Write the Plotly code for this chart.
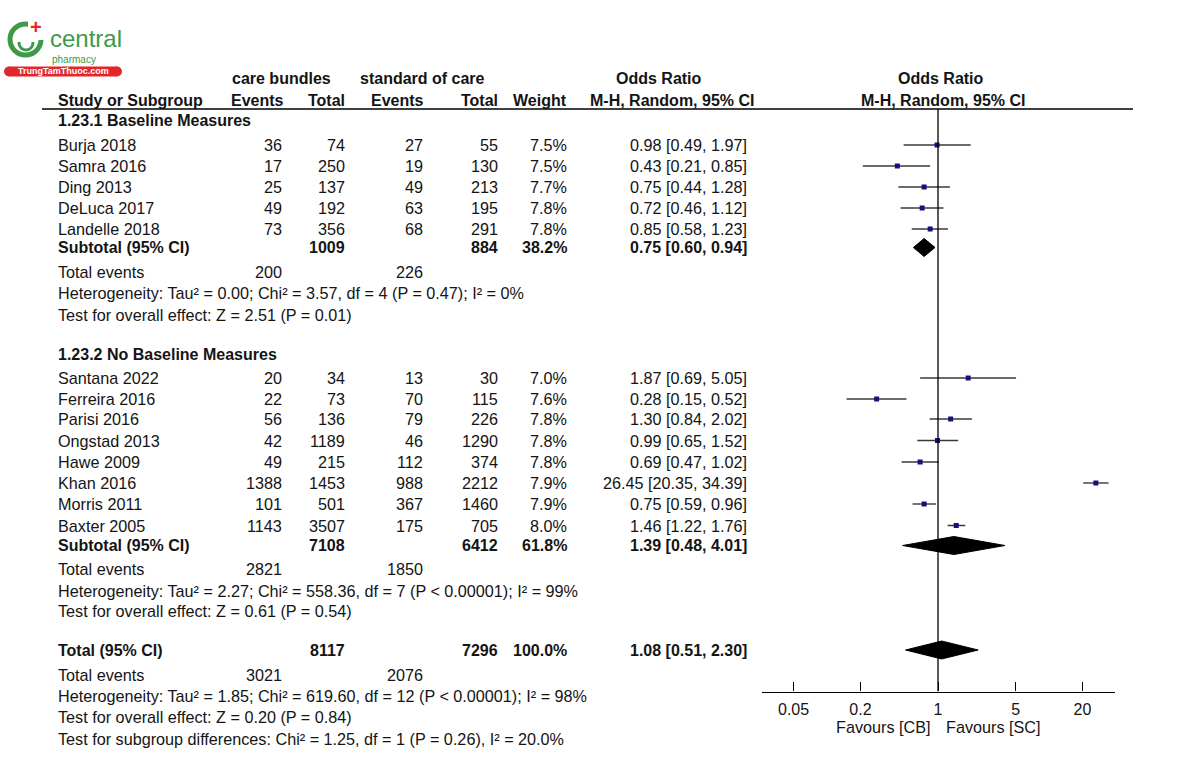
import math
import plotly.graph_objects as go

# ---------------- data ----------------
g1_studies = ["Burja 2018", "Samra 2016", "Ding 2013", "DeLuca 2017", "Landelle 2018"]
g1_cb_events = [36, 17, 25, 49, 73]
g1_cb_total = [74, 250, 137, 192, 356]
g1_sc_events = [27, 19, 49, 63, 68]
g1_sc_total = [55, 130, 213, 195, 291]
g1_weight = [7.5, 7.5, 7.7, 7.8, 7.8]
g1_or = [0.98, 0.43, 0.75, 0.72, 0.85]
g1_lo = [0.49, 0.21, 0.44, 0.46, 0.58]
g1_hi = [1.97, 0.85, 1.28, 1.12, 1.23]

g2_studies = ["Santana 2022", "Ferreira 2016", "Parisi 2016", "Ongstad 2013",
              "Hawe 2009", "Khan 2016", "Morris 2011", "Baxter 2005"]
g2_cb_events = [20, 22, 56, 42, 49, 1388, 101, 1143]
g2_cb_total = [34, 73, 136, 1189, 215, 1453, 501, 3507]
g2_sc_events = [13, 70, 79, 46, 112, 988, 367, 175]
g2_sc_total = [30, 115, 226, 1290, 374, 2212, 1460, 705]
g2_weight = [7.0, 7.6, 7.8, 7.8, 7.8, 7.9, 7.9, 8.0]
g2_or = [1.87, 0.28, 1.30, 0.99, 0.69, 26.45, 0.75, 1.46]
g2_lo = [0.69, 0.15, 0.84, 0.65, 0.47, 20.35, 0.59, 1.22]
g2_hi = [5.05, 0.52, 2.02, 1.52, 1.02, 34.39, 0.96, 1.76]

pooled_labels = ["Subtotal (95% CI)", "Subtotal (95% CI)", "Total (95% CI)"]
pooled_cb_total = [1009, 7108, 8117]
pooled_sc_total = [884, 6412, 7296]
pooled_weight = [38.2, 61.8, 100.0]
pooled_or = [0.75, 1.39, 1.08]
pooled_lo = [0.60, 0.48, 0.51]
pooled_hi = [0.94, 4.01, 2.30]
pooled_cb_events = [200, 2821, 3021]
pooled_sc_events = [226, 1850, 2076]

group_titles = ["1.23.1 Baseline Measures", "1.23.2 No Baseline Measures"]
heterogeneity = [
    "Heterogeneity: Tau² = 0.00; Chi² = 3.57, df = 4 (P = 0.47); I² = 0%",
    "Heterogeneity: Tau² = 2.27; Chi² = 558.36, df = 7 (P < 0.00001); I² = 99%",
    "Heterogeneity: Tau² = 1.85; Chi² = 619.60, df = 12 (P < 0.00001); I² = 98%",
]
overall_effect = [
    "Test for overall effect: Z = 2.51 (P = 0.01)",
    "Test for overall effect: Z = 0.61 (P = 0.54)",
    "Test for overall effect: Z = 0.20 (P = 0.84)",
]
subgroup_test = "Test for subgroup differences: Chi² = 1.25, df = 1 (P = 0.26), I² = 20.0%"

tick_vals = [0.05, 0.2, 1, 5, 20]
tick_text = ["0.05", "0.2", "1", "5", "20"]

# ---------------- layout (pixel rows) ----------------
W, H = 1200, 762
FONT = "Liberation Sans, Arial, sans-serif"
TXT = "#141414"
FS = 16
FS_REG = 16.2
AXIS_Y = 691.5
HEADER_LINE_Y = 109

g1_rows = [145, 166, 187, 208, 229]
g2_rows = [378, 399, 419, 440.5, 462, 483, 504, 525.5]
pooled_rows = [247.5, 545.5, 650]
title_rows = [120.7, 354.3]
events_rows = [271.5, 569, 675]
het_rows = [293, 590.5, 696]
effect_rows = [315, 610.5, 716.5]
subgroup_row = 739

X_NAME = 56
X_CBE, X_CBT, X_SCE, X_SCT, X_W, X_CI = 284, 347, 425, 500, 569, 749


def px(x):
    return x / W


def py(y):
    return 1 - y / H


fig = go.Figure()
annotations = []


def txt(x, y, s, anchor="left", bold=False, size=None, color=TXT):
    if size is None:
        size = FS if bold else FS_REG
    annotations.append(dict(
        x=px(x), y=py(y), xref="paper", yref="paper",
        text=f"<b>{s}</b>" if bold else s, showarrow=False,
        xanchor=anchor, yanchor="middle",
        font=dict(family=FONT, size=size, color=color),
    ))


# headers
txt(281.5, 78, "care bundles", "center", True)
txt(422.5, 78, "standard of care", "center", True)
txt(659, 78, "Odds Ratio", "center", True)
txt(941, 78, "Odds Ratio", "center", True)
txt(X_NAME, 100, "Study or Subgroup", "left", True)
txt(X_CBE + 2, 100, "Events", "right", True)
txt(X_CBT, 100, "Total", "right", True)
txt(X_SCE + 1, 100, "Events", "right", True)
txt(X_SCT, 100, "Total", "right", True)
txt(X_W, 100, "Weight", "right", True)
txt(756, 100, "M-H, Random, 95% CI", "right", True)
txt(943, 100, "M-H, Random, 95% CI", "center", True)


def ci_text(o, l, h):
    return f"{o:.2f} [{l:.2f}, {h:.2f}]"


groups = [
    (g1_studies, g1_cb_events, g1_cb_total, g1_sc_events, g1_sc_total, g1_weight, g1_or, g1_lo, g1_hi, g1_rows),
    (g2_studies, g2_cb_events, g2_cb_total, g2_sc_events, g2_sc_total, g2_weight, g2_or, g2_lo, g2_hi, g2_rows),
]

for gi, (names, cbe, cbt, sce, sct, wt, o_, lo_, hi_, rows) in enumerate(groups):
    txt(X_NAME, title_rows[gi], group_titles[gi], "left", True)
    for i, nm in enumerate(names):
        y = rows[i]
        txt(X_NAME, y, nm)
        txt(X_CBE, y, str(cbe[i]), "right")
        txt(X_CBT, y, str(cbt[i]), "right")
        txt(X_SCE, y, str(sce[i]), "right")
        txt(X_SCT, y, str(sct[i]), "right")
        txt(X_W, y, f"{wt[i]:.1f}%", "right")
        txt(X_CI, y, ci_text(o_[i], lo_[i], hi_[i]), "right")
    fig.add_trace(go.Scatter(
        x=o_, y=rows, mode="markers",
        marker=dict(symbol="square", size=5, color="#12127a"),
        error_x=dict(type="data", symmetric=False,
                     array=[h - o for h, o in zip(hi_, o_)],
                     arrayminus=[o - l for o, l in zip(o_, lo_)],
                     width=0, thickness=1.4, color="#3a3a3a"),
        showlegend=False, hoverinfo="skip",
    ))

for k in range(3):
    y = pooled_rows[k]
    txt(X_NAME, y, pooled_labels[k], "left", True)
    txt(X_CBT, y, str(pooled_cb_total[k]), "right", True)
    txt(X_SCT, y, str(pooled_sc_total[k]), "right", True)
    txt(X_W, y, f"{pooled_weight[k]:.1f}%", "right", True)
    txt(X_CI, y, ci_text(pooled_or[k], pooled_lo[k], pooled_hi[k]), "right", True)
    txt(X_NAME, events_rows[k], "Total events")
    txt(X_CBE, events_rows[k], str(pooled_cb_events[k]), "right")
    txt(X_SCE, events_rows[k], str(pooled_sc_events[k]), "right")
    txt(X_NAME, het_rows[k], heterogeneity[k])
    txt(X_NAME, effect_rows[k], overall_effect[k])
    hh = 9
    fig.add_trace(go.Scatter(
        x=[pooled_lo[k], pooled_or[k], pooled_hi[k], pooled_or[k], pooled_lo[k]],
        y=[y, y - hh, y, y + hh, y],
        mode="lines", fill="toself", fillcolor="black",
        line=dict(color="black", width=1), showlegend=False, hoverinfo="skip",
    ))

txt(X_NAME, subgroup_row, subgroup_test)

# line of no effect
fig.add_trace(go.Scatter(
    x=[1, 1], y=[HEADER_LINE_Y, AXIS_Y], mode="lines",
    line=dict(color="black", width=1.3), showlegend=False, hoverinfo="skip",
))

# favours labels
txt(932, 727, "Favours [CB]", "right")
txt(944, 727, "Favours [SC]", "left")

# ---------------- logo ----------------
GREEN = "#3c9a49"
RED = "#e3262b"
shapes = [
    dict(type="line", xref="paper", yref="paper", x0=px(42), x1=px(1133),
         y0=py(HEADER_LINE_Y), y1=py(HEADER_LINE_Y), line=dict(color="black", width=1.5)),
    dict(type="circle", xref="paper", yref="paper", x0=px(10), x1=px(41),
         y0=py(55), y1=py(24), line=dict(color=GREEN, width=5)),
    dict(type="rect", xref="paper", yref="paper", x0=px(28), x1=px(46),
         y0=py(40), y1=py(18), fillcolor="white", line=dict(width=0)),
    dict(type="circle", xref="paper", yref="paper", x0=px(19), x1=px(33),
         y0=py(50), y1=py(36), line=dict(color=GREEN, width=3)),
    dict(type="rect", xref="paper", yref="paper", x0=px(17), x1=px(35),
         y0=py(42), y1=py(30), fillcolor="white", line=dict(width=0)),
    dict(type="rect", xref="paper", yref="paper", x0=px(9), x1=px(117),
         y0=py(76.5), y1=py(66.5), fillcolor=RED, line=dict(width=0)),
    dict(type="circle", xref="paper", yref="paper", x0=px(4), x1=px(14),
         y0=py(76.5), y1=py(66.5), fillcolor=RED, line=dict(width=0)),
    dict(type="circle", xref="paper", yref="paper", x0=px(112), x1=px(122),
         y0=py(76.5), y1=py(66.5), fillcolor=RED, line=dict(width=0)),
]
txt(36, 27, "<b>+</b>", "center", False, 20, RED)
txt(48, 38.5, "central", "left", False, 24, GREEN)
txt(50, 59.5, "pharmacy", "left", False, 10, GREEN)
txt(63, 71.5, "TrungTamThuoc.com", "center", True, 9, "white")

lo_log = -1.5856
hi_log = 1.5946

fig.update_layout(
    width=W, height=H,
    margin=dict(l=0, r=0, t=0, b=0),
    paper_bgcolor="white", plot_bgcolor="white",
    showlegend=False,
    annotations=annotations,
    shapes=shapes,
    xaxis=dict(
        type="log", range=[lo_log, hi_log],
        domain=[px(762), px(1115)],
        showgrid=False, zeroline=False,
        showline=True, linecolor="black", linewidth=1.3,
        ticks="inside", ticklen=9, tickwidth=1.3, tickcolor="black",
        tickvals=tick_vals, ticktext=tick_text,
        tickfont=dict(family=FONT, size=FS, color=TXT),
        ticklabelstandoff=3,
        automargin=False, fixedrange=True,
    ),
    yaxis=dict(
        range=[AXIS_Y, 0], domain=[1 - AXIS_Y / H, 1],
        visible=False, showgrid=False, zeroline=False,
        automargin=False, fixedrange=True,
    ),
)

fig.write_html("out.html", config={"displayModeBar": False},
               post_script="document.body.style.margin='0px';")
